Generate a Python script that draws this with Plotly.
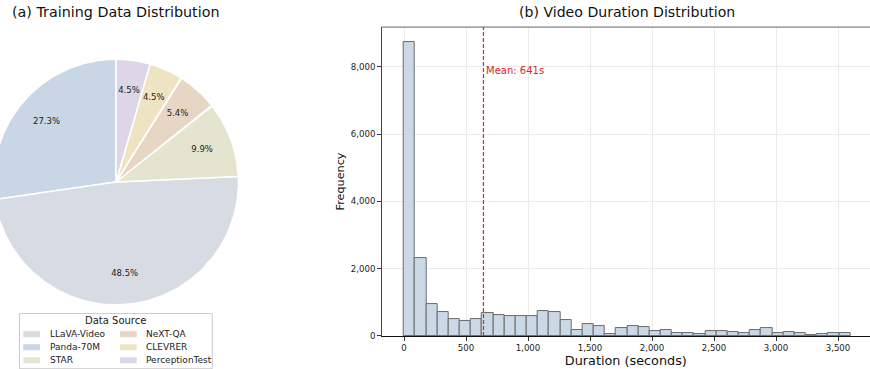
import numpy as np
import plotly.graph_objects as go

# ---------------- data ----------------
sources = ["LLaVA-Video", "Panda-70M", "STAR", "NeXT-QA", "CLEVRER", "PerceptionTest"]
shares = [48.5, 27.3, 9.9, 5.4, 4.5, 4.5]
source_colors = ["#d6dbe4", "#c8d6e5", "#e5e5cf", "#e8d6c5", "#efe4c1", "#ddd6e7"]
# counter-clockwise drawing order of the wedges, starting at 12 o'clock
wedge_order = ["Panda-70M", "LLaVA-Video", "STAR", "NeXT-QA", "CLEVRER", "PerceptionTest"]

bin_width = 90
bin_edges = np.arange(0, 3600 + bin_width, bin_width)
counts = [8746, 2328, 945, 695, 497, 437, 497, 676, 606, 576,
          586, 586, 736, 695, 457, 169, 348, 278, 40, 229,
          285, 258, 139, 159, 99, 99, 60, 139, 139, 109,
          99, 159, 219, 89, 109, 70, 30, 60, 80, 80]
mean_duration = 641

FONT = "DejaVu Sans"
W, H = 870, 369          # design canvas (pixels of the reference)
H_LAYOUT = 375           # layout height (compensates the vertical squeeze of the snapshot)

fig = go.Figure()

# ---------------- pie (drawn as filled wedges so it can be clipped) ----------------
pie_cx, pie_cy, pie_r = 116, 181.5, 122.5      # pixels
pie_right_px = 261
label_r = 0.75

angle = 90.0
lab_x, lab_y, lab_t = [], [], []
for name in wedge_order:
    i = sources.index(name)
    span = shares[i] / sum(shares) * 360.0
    th = np.radians(np.linspace(angle, angle + span, 120))
    xs = np.concatenate([[0], np.cos(th), [0]])
    ys = np.concatenate([[0], np.sin(th), [0]])
    fig.add_trace(go.Scatter(
        x=xs, y=ys, mode="lines", fill="toself",
        fillcolor=source_colors[i], line=dict(color="white", width=1.5),
        xaxis="x2", yaxis="y2", showlegend=False, hoverinfo="skip"))
    mid = np.radians(angle + span / 2)
    lab_x.append(label_r * np.cos(mid))
    lab_y.append(label_r * np.sin(mid))
    lab_t.append(f"{shares[i]:.1f}%")
    angle += span

fig.add_trace(go.Scatter(
    x=lab_x, y=lab_y, mode="text", text=lab_t,
    textfont=dict(family=FONT, size=8.5, color="#222222"),
    xaxis="x2", yaxis="y2", showlegend=False, hoverinfo="skip"))

# ---------------- histogram ----------------
centers = (bin_edges[:-1] + bin_edges[1:]) / 2
fig.add_trace(go.Bar(
    x=centers, y=counts, width=bin_width,
    marker=dict(color="#cbd9e6", line=dict(color="#6a6a6a", width=1)),
    showlegend=False, xaxis="x", yaxis="y"))

hx0, hx1 = 381.7, 870
hy_top, hy_bot = 27, 335
px_per_s = 434 / 3500
x_lo = -(404 - hx0) / px_per_s
x_hi = x_lo + (hx1 - hx0) / px_per_s
y_hi = 8000 * (hy_bot - hy_top) / (hy_bot - 66.7)

axis_font = dict(family=FONT, size=8.6, color="#222222")
fig.update_layout(
    width=W, height=H_LAYOUT, autosize=False,
    margin=dict(l=0, r=0, t=0, b=0),
    paper_bgcolor="white", plot_bgcolor="white",
    font=dict(family=FONT, color="#222222"),
    bargap=0,
    xaxis=dict(
        domain=[hx0 / W, 1], range=[x_lo, x_hi],
        tickmode="linear", tick0=0, dtick=500, tickformat=",d",
        showgrid=True, gridcolor="#ebebeb", gridwidth=1, zeroline=False,
        showline=True, linecolor="#111111", linewidth=1.2,
        ticks="outside", ticklen=3.5, tickcolor="#333333", tickwidth=1,
        tickfont=axis_font,
        title=dict(text="Duration (seconds)", font=dict(family=FONT, size=12.8, color="#111111"), standoff=3),
    ),
    yaxis=dict(
        domain=[(H - hy_bot) / H, (H - hy_top) / H], range=[0, y_hi],
        tickmode="linear", tick0=0, dtick=2000, tickformat=",d",
        showgrid=True, gridcolor="#ebebeb", gridwidth=1, zeroline=False,
        showline=True, linecolor="#444444", linewidth=1,
        ticks="outside", ticklen=3.5, tickcolor="#333333", tickwidth=1,
        tickfont=axis_font,
        title=dict(text="Frequency", font=dict(family=FONT, size=11.2, color="#111111"), standoff=3),
    ),
    xaxis2=dict(
        domain=[0, pie_right_px / W], anchor="y2",
        range=[-pie_cx / pie_r, (pie_right_px - pie_cx) / pie_r],
        visible=False, fixedrange=True),
    yaxis2=dict(
        domain=[0, 1], anchor="x2",
        range=[-(H - pie_cy) / pie_r, pie_cy / pie_r],
        visible=False, fixedrange=True),
)

# top spine of the histogram
fig.add_shape(type="line", xref="x domain", yref="y domain", x0=0, x1=1, y0=1, y1=1,
              line=dict(color="#666666", width=1))
# mean line
fig.add_shape(type="line", xref="x", yref="y domain", x0=mean_duration, x1=mean_duration,
              y0=0, y1=1, line=dict(color="#d62728", width=1.2, dash="4px,2px"))
fig.add_annotation(x=mean_duration, y=7900, xref="x", yref="y", xanchor="left", yanchor="middle",
                   xshift=1, text=f"Mean: {mean_duration}s", showarrow=False,
                   font=dict(family=FONT, size=10, color="#d62728"))

# titles
fig.add_annotation(x=116 / W, y=1 - 12 / H, xref="paper", yref="paper", xanchor="center", yanchor="middle",
                   text="(a) Training Data Distribution", showarrow=False,
                   font=dict(family=FONT, size=14.3, color="#111111"))
fig.add_annotation(x=(hx0 + 872.7) / 2 / W, y=1 - 12 / H, xref="paper", yref="paper",
                   xanchor="center", yanchor="middle",
                   text="(b) Video Duration Distribution", showarrow=False,
                   font=dict(family=FONT, size=14.1, color="#111111"))

# ---------------- legend for the pie (two columns, matplotlib style) ----------------
lg_x0, lg_x1, lg_y0, lg_y1 = 19.5, 212.3, 312.7, 367.7
def px(x):
    return x / W
def py(y):
    return 1 - y / H

fig.add_shape(type="rect", xref="paper", yref="paper",
              x0=px(lg_x0), x1=px(lg_x1), y0=py(lg_y1), y1=py(lg_y0),
              line=dict(color="#cccccc", width=1), fillcolor="rgba(255,255,255,0.85)", layer="above")
fig.add_annotation(x=px((lg_x0 + lg_x1) / 2), y=py(320), xref="paper", yref="paper",
                   xanchor="center", yanchor="middle", text="Data Source", showarrow=False,
                   font=dict(family=FONT, size=10, color="#222222"))
col_swatch_x = [23.3, 120.0]
row_y = [333.3, 346.3, 359.3]
sw_w, sw_h = 16.7, 6.0
for k, name in enumerate(sources):
    c, r = divmod(k, 3)
    sx, sy = col_swatch_x[c], row_y[r]
    fig.add_shape(type="rect", xref="paper", yref="paper",
                  x0=px(sx), x1=px(sx + sw_w), y0=py(sy + sw_h / 2), y1=py(sy - sw_h / 2),
                  line=dict(width=0), fillcolor=source_colors[k], layer="above")
    fig.add_annotation(x=px(sx + sw_w + 7.5), y=py(sy), xref="paper", yref="paper",
                       xanchor="left", yanchor="middle", text=name, showarrow=False,
                       font=dict(family=FONT, size=9, color="#222222"))

# the page's default body margin would shift the figure; remove it
fig.write_html(
    "out.html",
    config={"responsive": False, "displayModeBar": False},
    post_script="document.body.style.margin='0px';document.documentElement.style.overflow='hidden';",
)
